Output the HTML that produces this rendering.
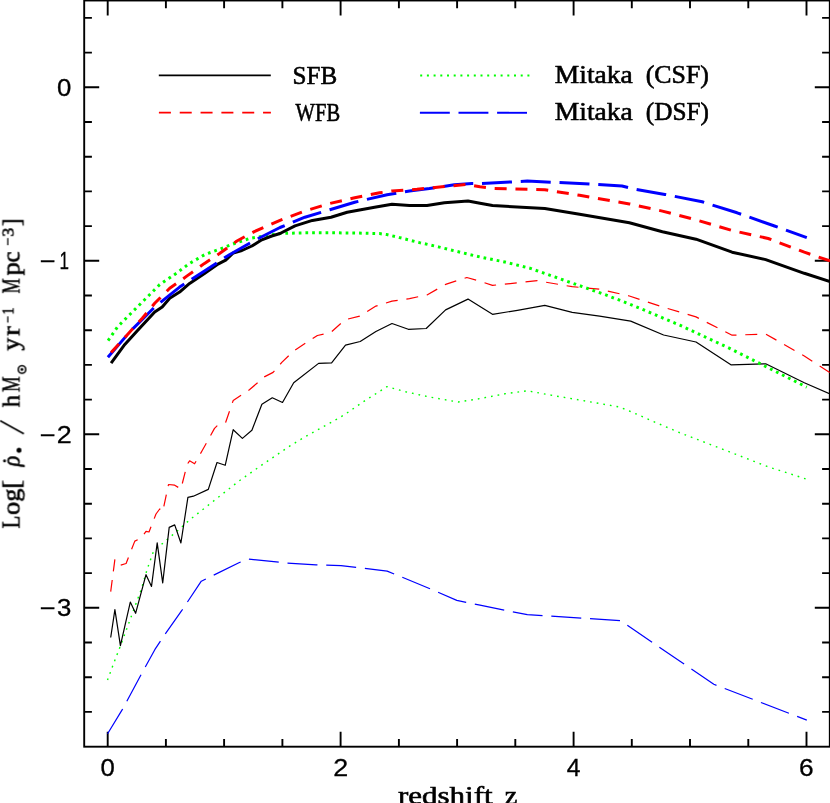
<!DOCTYPE html>
<html><head><meta charset="utf-8"><title>SFR density</title>
<style>
html,body{margin:0;padding:0;background:#fff;}
body{width:830px;height:803px;overflow:hidden;font-family:"Liberation Sans",sans-serif;}
svg{display:block;}
</style></head><body>
<svg width="830" height="803" viewBox="0 0 830 803">
<defs><filter id="nf" filterUnits="userSpaceOnUse" x="0" y="0" width="830" height="803"><feOffset dx="0" dy="0"/></filter></defs>
<rect width="830" height="803" fill="#fff"/>
<g stroke="#000" stroke-width="1.9" fill="none" stroke-linecap="butt">
<rect x="84.2" y="0.5" width="745.6" height="746.2"/>
<path d="M107.7,746.7 v-15.0 M107.7,0.5 v15.0 M165.9,746.7 v-7.7 M165.9,0.5 v7.7 M224.1,746.7 v-7.7 M224.1,0.5 v7.7 M282.4,746.7 v-7.7 M282.4,0.5 v7.7 M340.6,746.7 v-15.0 M340.6,0.5 v15.0 M398.9,746.7 v-7.7 M398.9,0.5 v7.7 M457.1,746.7 v-7.7 M457.1,0.5 v7.7 M515.3,746.7 v-7.7 M515.3,0.5 v7.7 M573.6,746.7 v-15.0 M573.6,0.5 v15.0 M631.8,746.7 v-7.7 M631.8,0.5 v7.7 M690.0,746.7 v-7.7 M690.0,0.5 v7.7 M748.3,746.7 v-7.7 M748.3,0.5 v7.7 M806.5,746.7 v-15.0 M806.5,0.5 v15.0 M84.2,711.9 h7.7 M829.8,711.9 h-7.7 M84.2,677.2 h7.7 M829.8,677.2 h-7.7 M84.2,642.5 h7.7 M829.8,642.5 h-7.7 M84.2,607.8 h15.0 M829.8,607.8 h-15.0 M84.2,573.1 h7.7 M829.8,573.1 h-7.7 M84.2,538.4 h7.7 M829.8,538.4 h-7.7 M84.2,503.7 h7.7 M829.8,503.7 h-7.7 M84.2,469.0 h7.7 M829.8,469.0 h-7.7 M84.2,434.3 h15.0 M829.8,434.3 h-15.0 M84.2,399.6 h7.7 M829.8,399.6 h-7.7 M84.2,364.9 h7.7 M829.8,364.9 h-7.7 M84.2,330.2 h7.7 M829.8,330.2 h-7.7 M84.2,295.5 h7.7 M829.8,295.5 h-7.7 M84.2,260.8 h15.0 M829.8,260.8 h-15.0 M84.2,226.1 h7.7 M829.8,226.1 h-7.7 M84.2,191.4 h7.7 M829.8,191.4 h-7.7 M84.2,156.7 h7.7 M829.8,156.7 h-7.7 M84.2,122.0 h7.7 M829.8,122.0 h-7.7 M84.2,87.3 h15.0 M829.8,87.3 h-15.0 M84.2,52.6 h7.7 M829.8,52.6 h-7.7 M84.2,17.9 h7.7 M829.8,17.9 h-7.7"/>
</g>
<g fill="none" stroke-linejoin="round" stroke-linecap="butt">
<path d="M107.5,680.0 L113.7,663.3 L120.0,647.0 L126.7,629.0 L133.7,609.7 L141.2,589.7 L147.4,568.5 L153.6,551.1 L165.4,541.1 L178.5,529.9 L189.6,519.9 L214.5,500.3 L239.4,480.7 L264.3,463.3 L290.0,445.9 L304.9,436.9 L329.8,423.2 L344.8,414.5 L364.7,400.8 L387.1,386.6 L404.5,391.5 L429.4,397.0 L458.1,402.0 L480.0,398.6 L504.9,393.8 L527.3,390.8 L554.7,395.8 L579.6,400.0 L619.5,407.0 L629.4,411.0 L654.3,421.9 L680.0,432.8 L729.6,451.9 L767.0,466.4 L805.6,478.8" stroke="#00ff00" stroke-width="1.4" stroke-dasharray="1.7 5.0"/>
<path d="M107.6,733.8 L122.4,709.4 L141.1,674.6 L154.8,649.7 L164.7,634.7 L182.2,609.8 L201.3,581.2 L239.4,562.5 L248.2,559.0 L287.5,563.1 L316.1,564.8 L341.0,565.6 L387.2,571.1 L429.4,588.5 L456.8,600.4 L480.0,605.2 L527.3,614.7 L620.5,620.6 L680.0,661.3 L713.8,684.3 L806.8,720.1" stroke="#0000ff" stroke-width="1.2" stroke-dasharray="30.0 8.8" stroke-dashoffset="0.91"/>
<path d="M110.7,591.7 L114.9,559.3 L119.9,565.3 L126.1,563.5 L134.8,541.1 L141.1,538.1 L146.0,531.3 L149.0,532.0 L156.0,514.0 L159.7,509.0 L162.7,511.8 L168.5,484.5 L174.7,485.2 L180.9,489.0 L187.1,464.5 L189.6,460.8 L194.6,463.8 L202.1,450.8 L214.5,428.4 L218.3,424.7 L225.7,422.2 L233.2,400.5 L249.4,389.8 L264.3,376.9 L273.1,372.4 L281.8,362.4 L293.7,350.9 L317.4,335.5 L331.0,332.3 L344.8,319.8 L359.7,316.1 L375.9,306.1 L392.0,301.1 L409.5,298.6 L427.0,294.9 L445.6,284.4 L466.8,277.5 L480.0,281.2 L492.5,285.4 L537.3,280.7 L572.2,286.7 L599.6,289.2 L629.4,296.0 L662.4,306.9 L696.0,316.9 L732.1,335.2 L765.7,334.0 L804.3,356.0 L830.0,372.7" stroke="#ff0000" stroke-width="1.2" stroke-dasharray="12.0 8.8" stroke-dashoffset="0.25"/>
<path d="M110.7,637.5 L114.9,609.6 L120.4,645.7 L130.3,602.1 L135.6,613.3 L146.0,574.7 L151.5,586.4 L157.2,542.8 L162.7,582.9 L169.2,527.4 L174.7,524.9 L180.9,543.0 L187.9,497.4 L193.4,496.2 L208.3,489.4 L217.0,462.5 L225.2,465.3 L233.2,429.7 L242.4,438.4 L251.9,430.2 L261.9,404.3 L272.3,397.8 L282.5,402.5 L293.7,382.8 L318.6,363.4 L331.6,362.9 L345.5,345.2 L360.2,341.5 L375.9,331.5 L392.0,323.5 L408.3,329.3 L426.2,328.5 L445.6,309.9 L468.0,299.1 L480.0,306.6 L492.5,314.3 L517.4,310.3 L544.8,305.4 L572.2,312.3 L599.6,316.1 L630.7,321.1 L663.6,335.0 L696.0,342.0 L730.9,364.8 L765.7,363.8 L804.3,382.7 L830.0,393.9" stroke="#000000" stroke-width="1.2"/>
<path d="M108.1,340.6 L117.4,327.0 L129.8,314.5 L144.8,299.5 L159.7,284.6 L174.6,274.6 L189.6,263.4 L204.5,254.7 L219.5,249.2 L234.4,243.5 L249.4,238.5 L264.3,236.0 L280.0,233.5 L304.9,232.8 L329.8,232.8 L354.7,233.0 L379.6,233.6 L387.1,234.6 L399.6,237.6 L419.5,242.6 L439.4,247.1 L459.3,252.0 L480.0,257.0 L504.9,262.0 L529.8,268.2 L554.7,276.9 L579.6,285.7 L604.5,294.4 L629.4,304.0 L654.3,314.3 L679.8,325.2 L729.6,348.3 L767.0,367.2 L806.8,387.2" stroke="#00ff00" stroke-width="3.0" stroke-dasharray="2.7 4.0"/>
<path d="M111.1,363.1 L124.8,344.4 L137.3,330.7 L154.7,312.0 L162.2,307.0 L169.7,298.3 L179.6,292.1 L189.6,283.4 L204.5,273.4 L217.0,264.7 L225.7,260.2 L233.2,253.0 L241.9,250.5 L251.9,246.0 L261.8,239.8 L271.8,236.0 L280.0,233.5 L295.0,225.9 L312.4,220.4 L331.0,217.2 L347.2,212.2 L374.6,207.2 L392.0,204.2 L409.5,205.5 L427.0,205.5 L444.4,202.7 L468.0,201.0 L480.0,203.3 L492.5,205.5 L544.8,208.5 L579.6,214.2 L629.4,222.7 L662.4,231.7 L696.0,239.2 L732.1,252.2 L765.7,259.6 L804.3,273.3 L830.0,281.5" stroke="#000000" stroke-width="3.0"/>
<path d="M107.9,357.3 L129.8,331.9 L154.7,307.0 L179.6,287.1 L204.5,270.9 L229.4,254.7 L254.3,240.5 L280.0,227.5 L304.9,217.2 L329.8,209.7 L354.7,202.2 L387.1,194.8 L409.5,191.0 L429.4,188.5 L454.3,184.8 L471.8,183.5 L480.0,183.5 L527.3,181.1 L579.6,183.5 L622.0,186.0 L636.2,189.4 L664.9,194.4 L702.2,201.8 L737.1,212.8 L774.5,226.0 L806.8,237.7" stroke="#0000ff" stroke-width="3.0" stroke-dasharray="30.0 8.8" stroke-dashoffset="1.40"/>
<path d="M111.1,352.6 L129.8,332.0 L142.3,318.2 L154.7,303.3 L169.7,288.3 L187.1,275.9 L204.5,263.4 L219.5,253.5 L236.9,241.0 L254.3,231.6 L280.0,220.3 L304.9,211.0 L329.8,203.5 L354.7,197.7 L379.6,192.8 L392.0,191.0 L417.0,189.3 L441.9,186.8 L466.8,184.3 L480.0,186.8 L492.5,188.5 L544.8,189.8 L579.6,195.3 L629.4,203.9 L662.4,211.1 L696.0,219.8 L732.1,230.5 L768.2,238.5 L804.3,252.2 L830.0,260.9" stroke="#ff0000" stroke-width="3.0" stroke-dasharray="12.0 8.8" stroke-dashoffset="0.34"/>
<path d="M158.8,75.4 H270.8" stroke="#000" stroke-width="1.8"/>
<path d="M158.9,112.6 H270.9" stroke="#f00" stroke-width="1.8" stroke-dasharray="12 8.83"/>
<path d="M420.2,75.4 H530" stroke="#0f0" stroke-width="2" stroke-dasharray="2 4.7"/>
<path d="M419.9,112.8 H527.3" stroke="#00f" stroke-width="1.9" stroke-dasharray="29.9 8.7"/>
</g>
<g filter="url(#nf)" fill="#000" stroke="#000">
<text transform="translate(292.62,83.80) scale(0.9837,1)" font-family="'Liberation Serif'" font-size="25.5" stroke-width="0.6">SFB</text>
<text transform="translate(295.60,120.50) scale(0.8055,1)" font-family="'Liberation Serif'" font-size="25.5" stroke-width="0.6">WFB</text>
<text transform="translate(554.86,83.30) scale(1.0787,1)" font-family="'Liberation Serif'" font-size="25.5" stroke-width="0.6">Mitaka</text>
<text transform="translate(645.74,83.30) scale(1.0140,1)" font-family="'Liberation Serif'" font-size="25.5" stroke-width="0.6">(CSF)</text>
<text transform="translate(554.86,120.20) scale(1.0787,1)" font-family="'Liberation Serif'" font-size="25.5" stroke-width="0.6">Mitaka</text>
<text transform="translate(645.76,120.20) scale(0.9896,1)" font-family="'Liberation Serif'" font-size="25.5" stroke-width="0.6">(DSF)</text>
<text transform="translate(398.00,803.60) scale(1.2154,1)" font-family="'Liberation Serif'" font-size="25.5" stroke-width="0.6">redshift</text>
<text transform="translate(504.75,803.60) scale(1.1048,1)" font-family="'Liberation Serif'" font-size="25.5" stroke-width="0.6">z</text>
<text transform="translate(100.53,775.70) scale(1.0957,1)" font-family="'Liberation Sans'" font-size="23.5" stroke-width="0.3">0</text>
<text transform="translate(333.16,775.70) scale(1.1455,1)" font-family="'Liberation Sans'" font-size="23.5" stroke-width="0.3">2</text>
<text transform="translate(566.75,775.70) scale(1.0500,1)" font-family="'Liberation Sans'" font-size="23.5" stroke-width="0.3">4</text>
<text transform="translate(799.11,775.70) scale(1.1200,1)" font-family="'Liberation Sans'" font-size="23.5" stroke-width="0.3">6</text>
<text transform="translate(57.08,95.80) scale(1.0957,1)" font-family="'Liberation Sans'" font-size="23.5" stroke-width="0.3">0</text>
<text transform="translate(59.44,269.30) scale(0.7220,1)" font-family="'Liberation Sans'" font-size="23.5" stroke-width="0.3">1</text>
<text transform="translate(39.64,269.30) scale(1.1574,1)" font-family="'Liberation Sans'" font-size="23.5" stroke-width="0.3">−</text>
<text transform="translate(56.75,442.80) scale(1.1455,1)" font-family="'Liberation Sans'" font-size="23.5" stroke-width="0.3">2</text>
<text transform="translate(39.64,442.80) scale(1.1574,1)" font-family="'Liberation Sans'" font-size="23.5" stroke-width="0.3">−</text>
<text transform="translate(57.08,616.30) scale(1.0957,1)" font-family="'Liberation Sans'" font-size="23.5" stroke-width="0.3">3</text>
<text transform="translate(39.64,616.30) scale(1.1574,1)" font-family="'Liberation Sans'" font-size="23.5" stroke-width="0.3">−</text>
<g transform="translate(19.5,528.2) rotate(-90)">
<text transform="translate(-0.21,0.00) scale(0.8145,1)" font-family="'Liberation Serif'" font-size="25.5" stroke-width="0.6">L</text>
<text transform="translate(13.33,0.00) scale(1.0277,1)" font-family="'Liberation Serif'" font-size="25.5" stroke-width="0.6">og[</text>
<text transform="translate(61.77,0.00) scale(0.8706,1)" font-family="'Liberation Serif'" font-size="25.5" font-style="italic" stroke-width="0.6">ρ</text>
<text transform="translate(121.00,0.00) scale(0.9569,1)" font-family="'Liberation Serif'" font-size="25.5" stroke-width="0.6">h</text>
<text transform="translate(136.36,0.00) scale(0.6805,1)" font-family="'Liberation Serif'" font-size="25.5" stroke-width="0.6">M</text>
<text transform="translate(177.60,0.00) scale(1.0077,1)" font-family="'Liberation Serif'" font-size="25.5" stroke-width="0.6">y</text>
<text transform="translate(192.21,0.00) scale(1.1515,1)" font-family="'Liberation Serif'" font-size="25.5" stroke-width="0.6">r</text>
<text transform="translate(205.15,-6.40) scale(0.6971,1)" font-family="'Liberation Serif'" font-size="17.5" stroke-width="0.5">−</text>
<text transform="translate(213.56,-6.40) scale(0.8296,1)" font-family="'Liberation Serif'" font-size="17.5" stroke-width="0.5">1</text>
<text transform="translate(234.77,0.00) scale(0.6621,1)" font-family="'Liberation Serif'" font-size="25.5" stroke-width="0.6">M</text>
<text transform="translate(252.80,0.00) scale(1.0333,1)" font-family="'Liberation Serif'" font-size="25.5" stroke-width="0.6">p</text>
<text transform="translate(265.87,0.00) scale(0.9700,1)" font-family="'Liberation Serif'" font-size="25.5" stroke-width="0.6">c</text>
<text transform="translate(282.49,-6.40) scale(0.8229,1)" font-family="'Liberation Serif'" font-size="17.5" stroke-width="0.5">−</text>
<text transform="translate(291.49,-6.40) scale(1.0194,1)" font-family="'Liberation Serif'" font-size="17.5" stroke-width="0.5">3</text>
<text transform="translate(302.05,0.00) scale(0.9077,1)" font-family="'Liberation Serif'" font-size="25.5" stroke-width="0.6">]</text>
<circle cx="67.3" cy="-15" r="1.5" stroke="none"/>
<circle cx="77.9" cy="-0.5" r="2.5" stroke="none"/>
<path d="M94.4,4.4 L107.5,-19.3" fill="none" stroke-width="1.7"/>
<circle cx="158.7" cy="2.5" r="3.8" fill="none" stroke-width="1.5"/>
<circle cx="158.7" cy="2.5" r="1.4" stroke="none"/>
</g>
</g>
</svg>
</body></html>
